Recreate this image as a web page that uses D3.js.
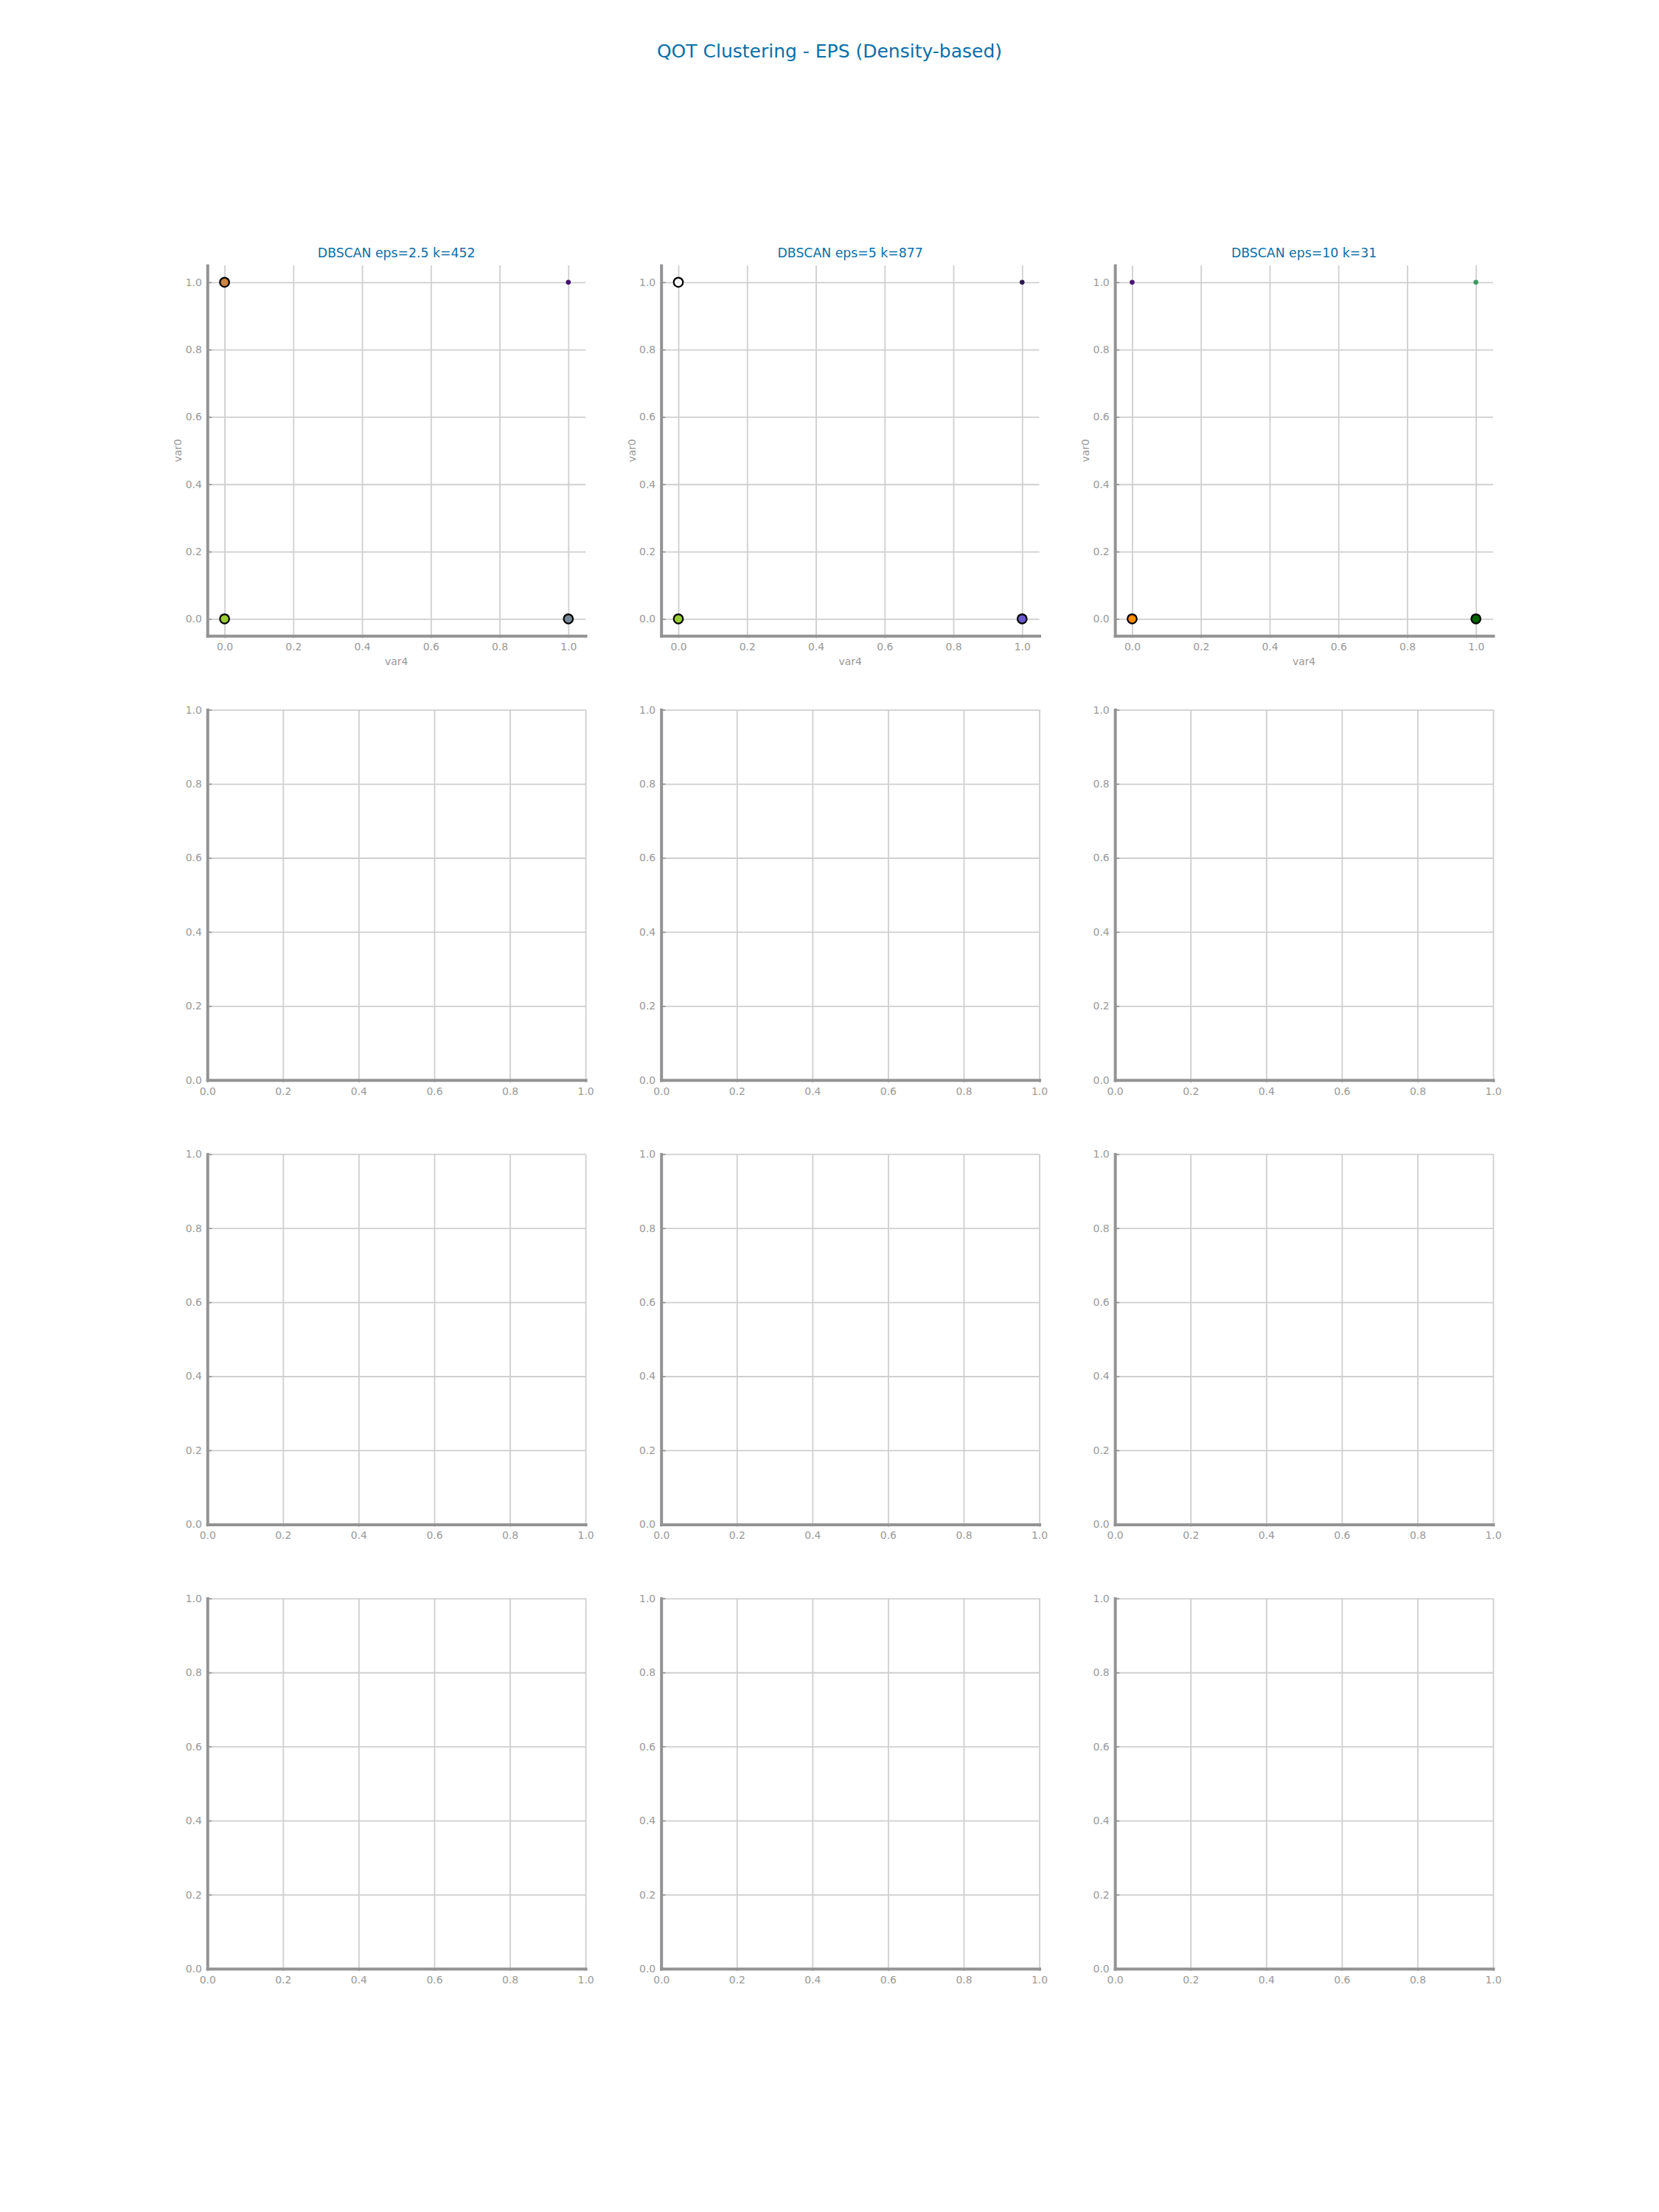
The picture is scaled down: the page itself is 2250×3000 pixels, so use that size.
<!DOCTYPE html>
<html><head><meta charset="utf-8">
<script src="https://cdn.jsdelivr.net/npm/d3@7"></script>
<style>
body{margin:0;background:#fff}
svg{display:block}
text{font-family:"DejaVu Sans",sans-serif}
</style>
</head><body>
<svg id="chart" width="2250" height="3000"></svg>
<script>
// ---- data ----
const suptitle = "QOT Clustering - EPS (Density-based)";
const panelTitles = ["DBSCAN eps=2.5 k=452", "DBSCAN eps=5 k=877", "DBSCAN eps=10 k=31"];
const xLabel = "var4";
const yLabel = "var0";
const tickValues = [0, 0.2, 0.4, 0.6, 0.8, 1.0];

const eps25X = [0, 1, 0, 1];
const eps25Y = [1, 1, 0, 0];
const eps25Noise = [false, true, false, false];
const eps25Colors = ["#cd853f", "#451070", "#9acd32", "#778899"];

const eps5X = [0, 1, 0, 1];
const eps5Y = [1, 1, 0, 0];
const eps5Noise = [false, true, false, false];
const eps5Colors = ["#f5f5f5", "#2e1a52", "#9acd32", "#6a5acd"];

const eps10X = [0, 1, 0, 1];
const eps10Y = [1, 1, 0, 0];
const eps10Noise = [true, true, false, false];
const eps10Colors = ["#4a1578", "#3c9a5f", "#ff8c00", "#006400"];

const panels = [
  {xs: eps25X, ys: eps25Y, noise: eps25Noise, colors: eps25Colors},
  {xs: eps5X, ys: eps5Y, noise: eps5Noise, colors: eps5Colors},
  {xs: eps10X, ys: eps10Y, noise: eps10Noise, colors: eps10Colors}
];

// ---- layout ----
const figW = 2250, figH = 3000;
const padLeft = 0.125 * figW, padRight = 0.9 * figW, padTop = 0.12 * figH, padBottom = 0.89 * figH;
const nCols = 3, nRows = 4, wspace = 0.2, hspace = 0.2;
const axW = (padRight - padLeft) / (nCols + (nCols - 1) * wspace);
const axH = (padBottom - padTop) / (nRows + (nRows - 1) * hspace);
const gapW = axW * wspace, gapH = axH * hspace;

const spineColor = "#939395";
const gridColor = "#cfcfcf";
const textGray = "#999999";
const titleColor = "#0b6fa8";
const fmt = d3.format(".1f");

const svg = d3.select("#chart");

svg.append("text")
  .attr("x", figW / 2).attr("y", 78)
  .attr("text-anchor", "middle")
  .attr("font-size", 25)
  .attr("fill", titleColor)
  .text(suptitle);

for (let r = 0; r < nRows; r++) {
  for (let c = 0; c < nCols; c++) {
    const x0 = padLeft + c * (axW + gapW);
    const y0 = padTop + r * (axH + gapH);
    const dom = r === 0 ? [-0.05, 1.05] : [0, 1];
    const x = d3.scaleLinear().domain(dom).range([0, axW]);
    const y = d3.scaleLinear().domain(dom).range([axH, 0]);
    const g = svg.append("g").attr("transform", `translate(${x0},${y0})`);

    // grid
    const gx = g.append("g").attr("transform", `translate(0,${axH})`)
      .call(d3.axisBottom(x).tickValues(tickValues).tickSize(-axH).tickSizeOuter(0).tickFormat(""));
    const gy = g.append("g")
      .call(d3.axisLeft(y).tickValues(tickValues).tickSize(-axW).tickSizeOuter(0).tickFormat(""));
    [gx, gy].forEach(a => {
      a.select(".domain").remove();
      a.selectAll(".tick line").attr("stroke", gridColor).attr("stroke-width", 1.8);
    });

    // points
    if (r === 0) {
      const p = panels[c];
      const pts = p.xs.map((v, i) => ({x: v, y: p.ys[i], noise: p.noise[i], color: p.colors[i]}));
      g.append("g").selectAll("circle").data(pts).join("circle")
        .attr("cx", d => x(d.x)).attr("cy", d => y(d.y))
        .attr("r", d => d.noise ? 3.3 : 6.3)
        .attr("fill", d => d.color)
        .attr("stroke", d => d.noise ? "none" : "#000")
        .attr("stroke-width", 2.2);
    }

    // axes
    const ax = g.append("g").attr("transform", `translate(0,${axH})`)
      .call(d3.axisBottom(x).tickValues(tickValues).tickFormat(fmt).tickSize(3).tickPadding(7).tickSizeOuter(0));
    const ay = g.append("g")
      .call(d3.axisLeft(y).tickValues(tickValues).tickFormat(fmt).tickSize(-6).tickPadding(7.5).tickSizeOuter(0));
    [ax, ay].forEach(a => {
      a.select(".domain").attr("stroke", spineColor).attr("stroke-width", 4).attr("stroke-linecap", "square");
      a.selectAll(".tick line").attr("stroke", spineColor).attr("stroke-width", 1.6);
      a.selectAll(".tick text").attr("fill", textGray).attr("font-size", 13.9)
        .attr("font-family", '"DejaVu Sans", sans-serif');
    });

    if (r === 0) {
      g.append("text")
        .attr("x", axW / 2).attr("y", -11)
        .attr("text-anchor", "middle")
        .attr("font-size", 17.3)
        .attr("fill", titleColor)
        .text(panelTitles[c]);
      g.append("text")
        .attr("x", axW / 2).attr("y", axH + 40)
        .attr("text-anchor", "middle")
        .attr("font-size", 13.9)
        .attr("fill", textGray)
        .text(xLabel);
      g.append("text")
        .attr("transform", `translate(-35,${axH / 2}) rotate(-90)`)
        .attr("text-anchor", "middle")
        .attr("font-size", 13.9)
        .attr("fill", textGray)
        .text(yLabel);
    }
  }
}
</script>
</body></html>
